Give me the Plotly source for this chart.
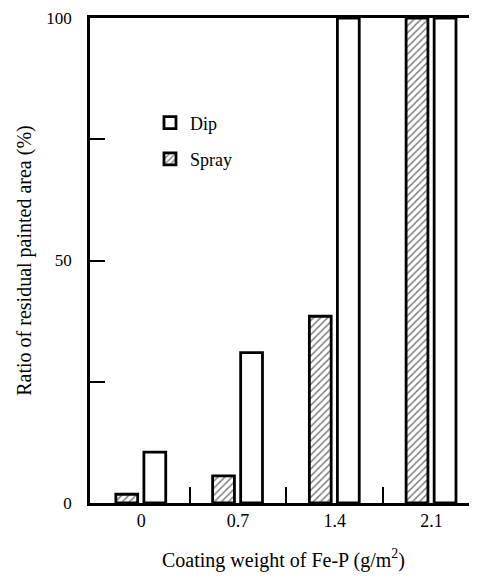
import plotly.graph_objects as go

categories = [0, 0.7, 1.4, 2.1]
tick_labels = ["0", "0.7", "1.4", "2.1"]
dip_values = [10.5, 31, 100, 100]
spray_values = [1.8, 5.6, 38.5, 100]
minor_ticks = [0.35, 1.05, 1.75]
y_major = [0, 50, 100]
y_minor = [25, 75]

FONT = "Liberation Serif, Times New Roman, DejaVu Serif, serif"

fig = go.Figure()
fig.add_trace(go.Bar(
    x=categories, y=dip_values, name="Dip",
    width=0.158, offset=0.02,
    marker=dict(color="white", line=dict(color="black", width=2.8)),
    legendgroup="a",
))
fig.add_trace(go.Bar(
    x=categories, y=spray_values, name="Spray",
    width=0.158, offset=-0.183,
    marker=dict(color="white", line=dict(color="black", width=2.8),
                pattern=dict(shape="/", fgcolor="black", bgcolor="white", size=5, solidity=0.3)),
    legendgroup="b",
))

fig.update_layout(
    width=477, height=579,
    margin=dict(l=82, r=8, t=10, b=84, autoexpand=False),
    paper_bgcolor="white", plot_bgcolor="white",
    barmode="overlay",
    font=dict(family=FONT, color="black", size=17),
    legend=dict(x=0.155, y=0.822, xanchor="left", yanchor="top",
                font=dict(size=18, family=FONT), bgcolor="rgba(0,0,0,0)",
                tracegroupgap=10, traceorder="grouped", itemwidth=30),
    xaxis=dict(
        range=[-0.37, 2.43], showgrid=False, zeroline=False, automargin=False,
        showline=True, linecolor="black", linewidth=2.5, mirror=True,
        tickmode="array", tickvals=categories, ticktext=tick_labels,
        ticks="", tickfont=dict(size=18, family=FONT),
        minor=dict(tickmode="array", tickvals=minor_ticks, ticks="inside",
                   ticklen=16, tickwidth=2, tickcolor="black"),
        title=dict(text="Coating weight of Fe-P (g/m<sup>2</sup>)", font=dict(size=20, family=FONT), standoff=23),
    ),
    yaxis=dict(
        range=[0, 100], showgrid=False, zeroline=False, automargin=False,
        showline=True, linecolor="black", linewidth=2.5,
        tickmode="array", tickvals=y_major,
        ticks="inside", ticklen=15, tickwidth=2, tickcolor="black",
        minor=dict(tickmode="array", tickvals=y_minor, ticks="inside",
                   ticklen=15, tickwidth=2, tickcolor="black"),
        tickfont=dict(size=17, family=FONT), ticklabelstandoff=12,
        ticklabeloverflow="allow",
        title=dict(text="Ratio of residual painted area (%)", font=dict(size=20, family=FONT), standoff=10),
    ),
)

fig.write_html("out.html")
